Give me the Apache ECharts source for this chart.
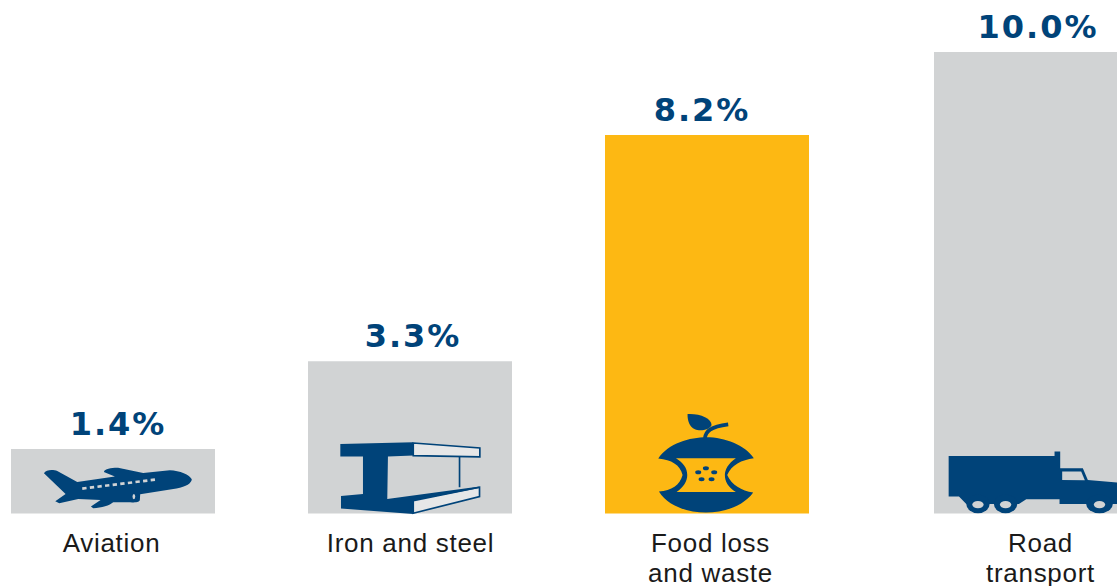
<!DOCTYPE html>
<html><head><meta charset="utf-8">
<style>html,body{margin:0;padding:0;background:#fff}#c{width:1117px;height:586px}#c text{letter-spacing:.7px}#c text[style*="bold"]{letter-spacing:2px}</style>
<script src="https://cdn.jsdelivr.net/npm/echarts@6/dist/echarts.min.js"></script>
</head><body><div id="c"></div>
<script>
const categories = ['Aviation', 'Iron and steel', 'Food loss\nand waste', 'Road\ntransport'];
const shares = [1.4, 3.3, 8.2, 10.0];
const highlighted = 'Food loss\nand waste';
const NAVY = '#004379', GREY = '#d1d3d4', GOLD = '#fdb813';

const chart = echarts.init(document.getElementById('c'), null, {renderer: 'svg'});
const valueLabelNudge = [5, 3, -5, 2];
const categoryLabelPadding = [[0, 3, 0, 0], [0, 0, 0, 1], [0, 0, 0, 7], [0, 0, 0, 9]];
const toData = (i) => ({
  value: shares[i],
  itemStyle: {color: categories[i] === highlighted ? GOLD : GREY},
  label: {offset: [valueLabelNudge[i], 0]}
});
const toCategory = (i) => ({value: categories[i], textStyle: {padding: categoryLabelPadding[i]}});

const xAxisBase = {
  type: 'category', axisLine: {show: false}, axisTick: {show: false},
  axisLabel: {color: '#1a1a1a', fontFamily: 'Liberation Sans', fontSize: 26, lineHeight: 30, margin: 14, interval: 0, hideOverlap: false}
};
const yAxisBase = {type: 'value', min: 0, max: 10, show: false};
const seriesBase = {
  type: 'bar', barWidth: 204, animation: false, silent: true,
  label: {show: true, position: 'top', distance: 9, color: NAVY, fontFamily: 'DejaVu Sans', fontWeight: 'bold', fontSize: 32,
    formatter: (p) => p.value.toFixed(1) + '%'}
};

let shapeCount = 0;
function icon(x, y, path, extra) {
  const name = 'iconShape' + (shapeCount++);
  echarts.graphic.registerShape(name, echarts.graphic.extendPath(path, {}));
  return Object.assign({type: name, x, y, z: 20, scaleX: 1/3, scaleY: 1/3, silent: true, style: {fill: NAVY}}, extra || {});
}
function filled(x, y, path, fill, stroke, lw) {
  return icon(x, y, path, {style: {fill, stroke: stroke || null, lineWidth: lw || 0}});
}
function ellipse(cx, cy, rx, ry) {
  return `M${cx - rx} ${cy}A${rx} ${ry} 0 1 0 ${cx + rx} ${cy}A${rx} ${ry} 0 1 0 ${cx - rx} ${cy}Z`;
}

const plane = 'M132 220C138 208 160 208 172 213L232 246L345 230L312 216C314 206 340 203 358 204L430 219L510 211C540 212 570 225 576 238C575 250 560 260 530 266L421 283L420 300C418 308 400 308 385 307L340 307C330 316 305 324 280 325L273 320L302 300L235 297L178 310L166 304L197 282Z';
const beamFront = 'M1022 132L1241 127L1241 167L1165 170L1163 297L1440 260L1440 264L1241 302L1241 342L1024 326L1024 288L1090 282L1090 170L1022 170Z';
const appleBody = 'M175 176C205 130 270 112 320 112C375 112 435 135 462 175C425 180 395 195 382 225C395 255 425 272 460 278C430 320 370 338 318 338C265 338 205 320 177 275C215 272 240 255 248 225C240 195 215 180 175 176Z';
const appleCore = 'M228 175L408 175C385 190 375 210 375 225C375 245 385 262 408 276L230 276C250 262 262 245 262 225C262 205 250 188 228 175Z';
const appleLeaf = 'M263 42C300 40 335 55 335 75C330 90 300 95 285 88C268 80 262 60 263 42Z';
const truck = 'M1047 168L1365 168L1365 155L1382 155L1382 205L1450 205L1465 240L1560 248L1560 312L1380 312L1380 298L1280 298L1258 312L1100 312L1078 290L1047 290Z';

chart.setOption({
  animation: false,
  grid: [
    {left: -35.5, width: 891, top: 52, height: 461.5, outerBoundsMode: 'none'},
    {left: 887.5, width: 297, top: 52, height: 461.5, outerBoundsMode: 'none'}
  ],
  xAxis: [
    Object.assign({}, xAxisBase, {gridIndex: 0, data: [0, 1, 2].map(toCategory)}),
    Object.assign({}, xAxisBase, {gridIndex: 1, data: [3].map(toCategory)})
  ],
  yAxis: [Object.assign({gridIndex: 0}, yAxisBase), Object.assign({gridIndex: 1}, yAxisBase)],
  series: [
    Object.assign({}, seriesBase, {xAxisIndex: 0, yAxisIndex: 0, data: [0, 1, 2].map(toData)}),
    Object.assign({}, seriesBase, {xAxisIndex: 1, yAxisIndex: 1, data: [3].map(toData)})
  ],
  graphic: {elements: [
    // plane
    icon(0, 400, plane),
    icon(0, 400, 'M247 266L475 238', {style: {fill: null, stroke: GREY, lineWidth: 8, lineDash: [13, 10]}}),
    filled(0, 400, ellipse(402, 290, 4, 8), GREY),
    // steel beam
    filled(0, 400, 'M1241 129L1441 144L1441 171L1241 167Z', '#e6e7e8', NAVY, 5),
    filled(0, 400, 'M1380 170L1380 262', 'none', NAVY, 5),
    filled(0, 400, 'M1241 302L1440 262L1440 290L1241 340Z', '#e6e7e8', NAVY, 5),
    icon(0, 400, beamFront),
    // apple core
    icon(600, 400, appleBody),
    filled(600, 400, appleCore, GOLD),
    icon(600, 400, appleLeaf),
    filled(600, 400, 'M315 114C318 95 330 80 385 73', 'none', NAVY, 11),
    icon(600, 400, [ellipse(295, 217, 9, 6), ellipse(318, 205, 9, 6), ellipse(343, 217, 9, 6), ellipse(305, 238, 9, 6), ellipse(335, 238, 9, 6)].join('')),
    // truck
    icon(600, 400, truck),
    filled(600, 400, 'M1388 215L1445 215L1456 241L1388 240Z', GREY),
    icon(600, 400, ellipse(1135, 312, 35, 28)), filled(600, 400, ellipse(1135, 314, 17, 11), GREY),
    icon(600, 400, ellipse(1218, 312, 35, 28)), filled(600, 400, ellipse(1218, 314, 17, 11), GREY),
    icon(600, 400, ellipse(1500, 312, 40, 28)), filled(600, 400, ellipse(1500, 314, 17, 11), GREY)
  ]}
});
</script></body></html>
